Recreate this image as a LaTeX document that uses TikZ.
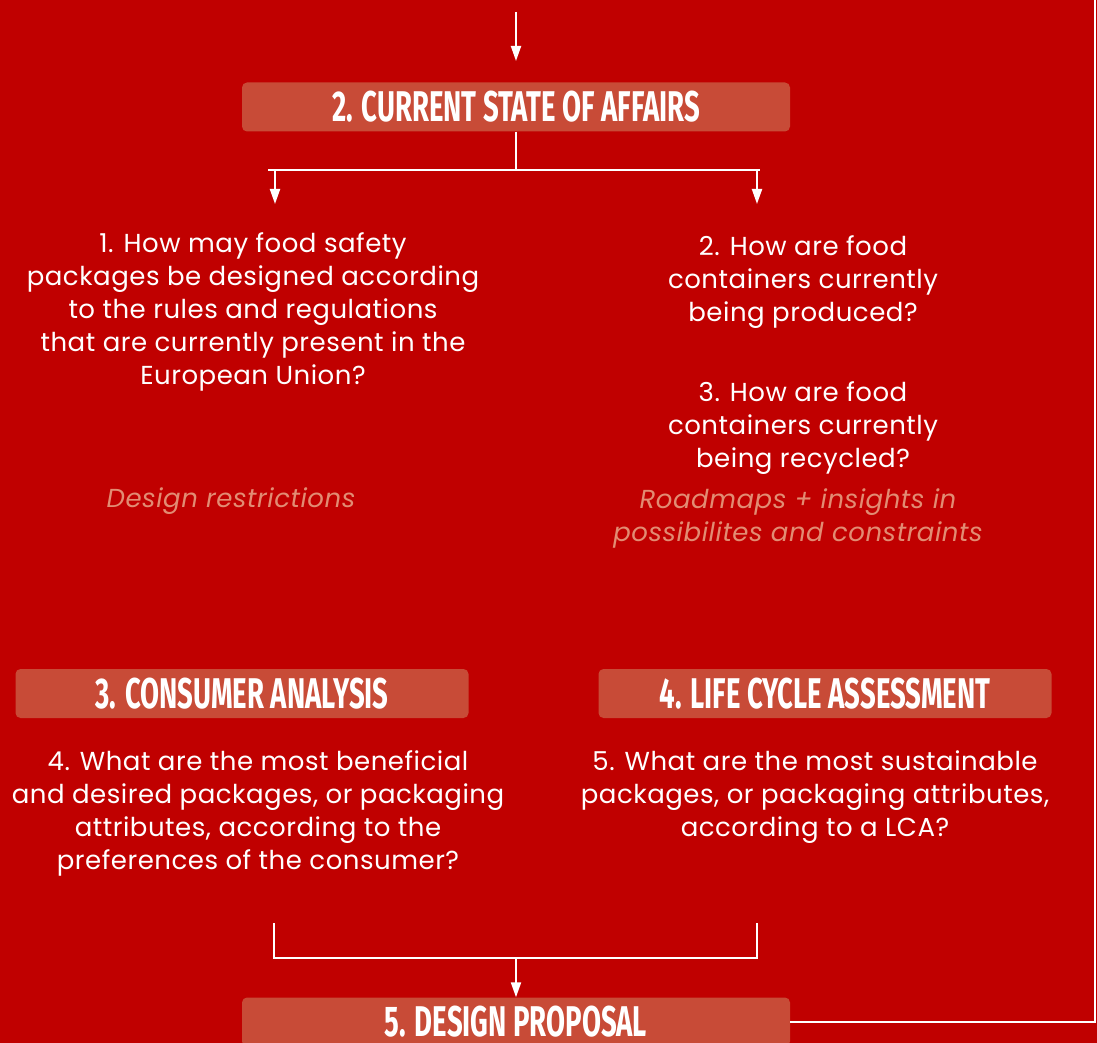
\documentclass[tikz,border=0pt]{standalone}
\usepackage{fontspec}
\setmainfont{Poppins}[LetterSpace=2]
\newfontfamily\headfont[FakeStretch=0.64]{Fira Sans}
\usetikzlibrary{arrows.meta}
\definecolor{bgred}{RGB}{192,0,0}
\definecolor{boxred}{RGB}{200,75,55}
\definecolor{notecol}{RGB}{226,140,115}
\begin{document}
\begin{tikzpicture}[x=1pt,y=-1pt,
  stagebox/.style={fill=boxred,rounded corners=5pt,minimum width=548pt,minimum height=49pt,
    inner sep=0pt,text=white,font=\headfont\bfseries\fontsize{43}{43}\selectfont},
  sidebox/.style={stagebox,minimum width=453pt},
  question/.style={text=white,align=center,inner sep=0pt,font=\fontsize{26}{33}\selectfont},
  note/.style={text=notecol,align=center,inner sep=0pt,font=\itshape\fontsize{26}{33}\selectfont},
  wire/.style={draw=white,line width=2pt},
  arrow/.style={wire,-{Triangle[length=15pt,width=10pt]}}]
\useasboundingbox (0,0) rectangle (1097,1043);
\fill[bgred] (0,0) rectangle (1097,1043);

% stage boxes
\node[stagebox] (b2) at (516,107) {2. CURRENT STATE OF AFFAIRS};
\node[sidebox] (b3) at (242,693.5) {3. CONSUMER ANALYSIS};
\node[sidebox] (b4) at (825,693.5) {4. LIFE CYCLE ASSESSMENT};
\node[stagebox] (b5) at (516,1022) {5. DESIGN PROPOSAL};

% research questions
\node[question] (q1) at (253,312) {1. How may food safety\\packages be designed according\\to the rules and regulations\\that are currently present in the\\European Union?};
\node[question] (q2) at (803,282) {2. How are food\\containers currently\\being produced?};
\node[question] (q3) at (803,428) {3. How are food\\containers currently\\being recycled?};
\node[note] (r1) at (231,501) {Design restrictions};
\node[note] (r2) at (798,518) {Roadmaps + insights in\\possibilites and constraints};
\node[question] (q4) at (258,813) {4. What are the most beneficial\\and desired packages, or packaging\\attributes, according to the\\preferences of the consumer?};
\node[question] (q5) at (815,797) {5. What are the most sustainable\\packages, or packaging attributes,\\according to a LCA?};

% connectors
\coordinate (in0) at (516,12);
\coordinate (in1) at (516,61);
\draw[arrow] (in0) -- (in1);

\coordinate (sl) at (268,170);
\coordinate (sr) at (760,170);
\coordinate (al) at (275,204);
\coordinate (ar) at (757,204);
\draw[wire] (b2.south) -- (b2.south |- sl);
\draw[wire] (sl) -- (sr);
\draw[arrow] (al |- sl) -- (al);
\draw[arrow] (ar |- sl) -- (ar);

\coordinate (jl) at (274,923);
\coordinate (jr) at (757,923);
\coordinate (jy) at (516,958);
\draw[wire] (jl) -- (jl |- jy) -- (jr |- jy) -- (jr);
\draw[arrow] (jy) -- (b5.north);

\coordinate (loop) at (1095,0);
\draw[wire] (b5.east) -- (loop |- b5.east) -- (loop);
\end{tikzpicture}
\end{document}
